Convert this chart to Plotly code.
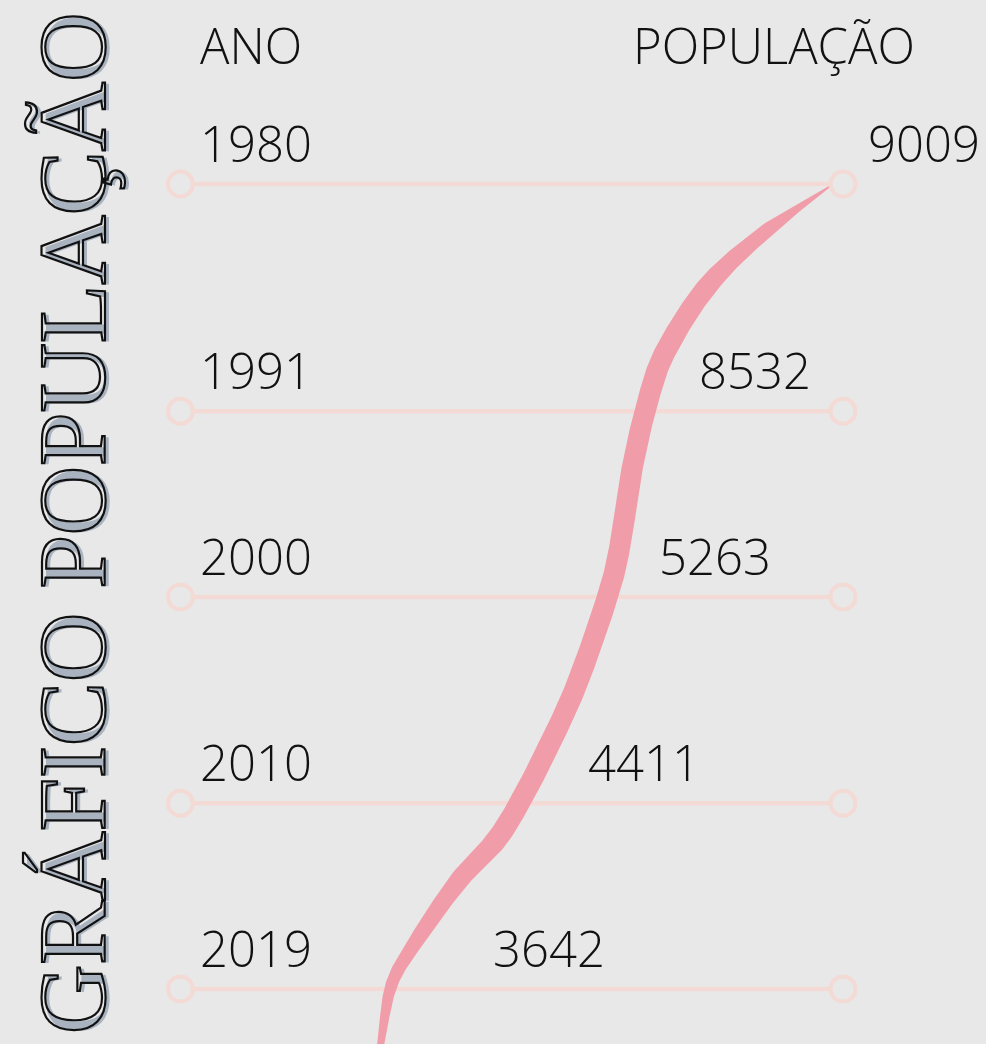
import numpy as np
import plotly.graph_objects as go

# Dados do gráfico
anos = [1980, 1991, 2000, 2010, 2019]
populacao = [9009, 8532, 5263, 4411, 3642]
titulo = "GRÁFICO POPULAÇÃO"
cab_ano = "ANO"
cab_pop = "POPULAÇÃO"

# Traço de pincel (decorativo): ano x posição horizontal (escala 0-100)
traco_ano = [1980.1, 1982.2, 1984.8, 1988.0, 1990.5, 1993.8, 1997.2, 1999.7,
             2004.0, 2006.9, 2009.8, 2011.8, 2013.7, 2016.6, 2018.8, 2021.7]
traco_pos = [84.2, 77.9, 72.0, 67.6, 65.7, 64.1, 63.0, 61.8,
             58.7, 56.0, 52.9, 50.3, 46.6, 42.3, 39.7, 38.6]

# Aparência
W, H = 986, 1044
FUNDO = "#e8e8e8"
ROSA_LINHA = "#f3dad5"
ROSA_TRACO = "#f19ca9"
Y_TOPO, Y_BASE = 1971.08, 2021.66
SX = W / 100.0
SY = H / (Y_BASE - Y_TOPO)


def catmull_rom(P, n=24):
    # suaviza a passagem entre os pontos do traço
    P = np.vstack([2 * P[0] - P[1], P, 2 * P[-1] - P[-2]])
    out = []
    for i in range(1, len(P) - 2):
        p0, p1, p2, p3 = P[i - 1], P[i], P[i + 1], P[i + 2]
        t = np.linspace(0, 1, n, endpoint=False)[:, None]
        seg = 0.5 * (2 * p1 + (-p0 + p2) * t + (2 * p0 - 5 * p1 + 4 * p2 - p3) * t ** 2
                     + (-p0 + 3 * p1 - 3 * p2 + p3) * t ** 3)
        out.append(seg)
    out.append(P[-2][None, :])
    return np.vstack(out)


def pincel(xs, ys):
    # contorno de largura variável (fina no topo) em pixels, devolvido em unidades dos eixos
    larg_ano = [1980.1, 1982.2, 1984.8, 1988.0, 2011.8, 2013.7, 2016.6, 2018.8, 2021.7]
    larg_px = [1.5, 14, 20, 21, 21, 19, 15, 12, 7]
    P = np.column_stack([np.array(xs) * SX, (np.array(ys) - Y_TOPO) * SY])
    C = catmull_rom(P)
    tg = np.gradient(C, axis=0)
    tg /= np.linalg.norm(tg, axis=1)[:, None]
    nrm = np.column_stack([-tg[:, 1], tg[:, 0]])
    w = np.interp(C[:, 1] / SY + Y_TOPO, larg_ano, larg_px) / 2
    esq = C + nrm * w[:, None]
    dir_ = C - nrm * w[:, None]
    poly = np.vstack([esq, dir_[::-1], esq[:1]])
    return poly[:, 0] / SX, poly[:, 1] / SY + Y_TOPO


fig = go.Figure()

# Linhas horizontais de cada ano
x_esq, x_dir = 18.3, 85.5
for a in anos:
    fig.add_trace(go.Scatter(x=[x_esq, x_dir], y=[a, a], mode="lines",
                             line=dict(color=ROSA_LINHA, width=4.5),
                             hoverinfo="skip"))

# Traço rosa
px_, py_ = pincel(traco_pos, traco_ano)
fig.add_trace(go.Scatter(x=px_, y=py_, mode="lines", fill="toself",
                         fillcolor=ROSA_TRACO, line=dict(width=0, color=ROSA_TRACO),
                         hoverinfo="skip"))

# Círculos nas pontas
fig.add_trace(go.Scatter(x=[x_esq] * len(anos) + [x_dir] * len(anos), y=anos + anos,
                         mode="markers",
                         marker=dict(size=25, color=FUNDO, symbol="circle",
                                     line=dict(color=ROSA_LINHA, width=4)),
                         hoverinfo="skip"))

fonte = dict(family="Open Sans", size=49, color="#111111", weight=300)
anot = []

# Título vertical: sombra cinza + contorno preto
for i, (cor, dx, dy) in enumerate([("#a9b3c0", 4, -1), ("rgba(0,0,0,0)", 0, 0)]):
    anot.append(dict(text=titulo, textangle=-90, xref="paper", yref="paper",
                     x=72 / W, y=1 - 523 / H, xanchor="center", yanchor="middle",
                     xshift=dx, yshift=dy, showarrow=False,
                     font=dict(family="Liberation Serif", size=96, color=cor)))

anot.append(dict(text=cab_ano, xref="paper", yref="paper", x=198 / W, y=1 - 45 / H,
                 xanchor="left", yanchor="middle", showarrow=False, font=fonte))
anot.append(dict(text=cab_pop, xref="paper", yref="paper", x=631 / W, y=1 - 45 / H,
                 xanchor="left", yanchor="middle", showarrow=False, font=fonte))

x_valor = [866, 697, 657, 586, 491]
for a, p, xv in zip(anos, populacao, x_valor):
    anot.append(dict(text=str(a), xref="paper", yref="y", x=198 / W, y=a, yshift=41,
                     xanchor="left", yanchor="middle", showarrow=False, font=fonte))
    anot.append(dict(text=str(p), xref="paper", yref="y", x=xv / W, y=a, yshift=41,
                     xanchor="left", yanchor="middle", showarrow=False, font=fonte))

fig.update_layout(
    width=W, height=H,
    margin=dict(l=0, r=0, t=0, b=0),
    paper_bgcolor=FUNDO, plot_bgcolor=FUNDO,
    showlegend=False,
    annotations=anot,
)
fig.update_xaxes(range=[0, 100], visible=False, fixedrange=True)
fig.update_yaxes(range=[Y_BASE, Y_TOPO], visible=False, fixedrange=True)

contorno = """
document.body.style.margin = '0';
document.body.style.background = '#e8e8e8';
var gd = document.getElementById('{plot_id}');
function contorno() {
  gd.querySelectorAll('g.annotation').forEach(function (g) {
    if (g.getAttribute('data-index') === '1') {
      var t = g.querySelector('text');
      t.style.fill = 'none';
      t.style.stroke = '#111111';
      t.style.strokeWidth = '2.2px';
    }
  });
}
contorno();
gd.on('plotly_afterplot', contorno);
"""

fig.write_html("out.html", post_script=contorno, config={"displayModeBar": False})
